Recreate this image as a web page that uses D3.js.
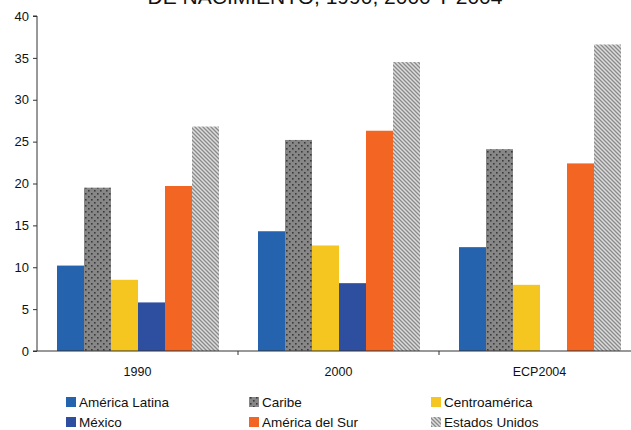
<!DOCTYPE html>
<html><head><meta charset="utf-8">
<script src="https://cdn.jsdelivr.net/npm/d3@7"></script>
<style>body{margin:0;background:#fff}svg{display:block;font-family:"Liberation Sans",Arial,sans-serif}</style>
</head><body><svg id="c" width="631" height="430"></svg>
<script>
const categories = ["1990", "2000", "ECP2004"];
const seriesNames = ["América Latina", "Caribe", "Centroamérica", "México", "América del Sur", "Estados Unidos"];
const americaLatina = [10.2, 14.3, 12.4];
const caribe = [19.5, 25.2, 24.1];
const centroamerica = [8.5, 12.6, 7.9];
const mexico = [5.8, 8.1, null];
const americaSur = [19.7, 26.3, 22.4];
const estadosUnidos = [26.8, 34.5, 36.6];
const yTicks = [0, 5, 10, 15, 20, 25, 30, 35, 40];
const titleText = "DE NACIMIENTO, 1990, 2000 Y 2004";

const values = [americaLatina, caribe, centroamerica, mexico, americaSur, estadosUnidos];
const fills = ["#2563ae", "url(#dots)", "#f5c520", "#2e4fa0", "#f26522", "url(#stripes)"];

const svg = d3.select("#c");
const defs = svg.append("defs");
const pd = defs.append("pattern").attr("id","dots").attr("patternUnits","userSpaceOnUse").attr("width",6).attr("height",6);
pd.append("rect").attr("width",6).attr("height",6).attr("fill","#878787");
pd.append("rect").attr("x",1).attr("y",1).attr("width",1.6).attr("height",1.6).attr("fill","#3a3a3a");
pd.append("rect").attr("x",4).attr("y",4).attr("width",1.6).attr("height",1.6).attr("fill","#3a3a3a");
const ps = defs.append("pattern").attr("id","stripes").attr("patternUnits","userSpaceOnUse").attr("width",4).attr("height",4);
ps.append("rect").attr("width",4).attr("height",4).attr("fill","#dcdcdc");
ps.append("path").attr("d","M-1,-1 L5,5 M-1,3 L1,5 M3,-1 L5,1").attr("stroke","#8a8a8a").attr("stroke-width",1.3);

const x0 = d3.scaleBand().domain(categories).range([37, 640]);
const x1 = d3.scaleBand().domain(seriesNames).range([20, x0.bandwidth() - 19]);
const y = d3.scaleLinear().domain([0, 40]).range([351, 16]);

svg.append("text").attr("x", 325).attr("y", 4).attr("text-anchor","middle")
  .attr("font-size", 21).attr("fill","#111").text(titleText);

// bars
seriesNames.forEach((s, si) => {
  categories.forEach((c, ci) => {
    const v = values[si][ci];
    if (v == null) return;
    svg.append("rect")
      .attr("x", x0(c) + x1(s))
      .attr("y", y(v))
      .attr("width", x1.bandwidth())
      .attr("height", y(0) - y(v))
      .attr("fill", fills[si]);
  });
});

// y axis
const ya = svg.append("g").attr("transform","translate(37,0)")
  .call(d3.axisLeft(y).tickValues(yTicks).tickSize(4).tickPadding(4));
ya.select(".domain").attr("stroke","#333").attr("d","M-4,"+y(40)+"H0V"+y(0)+"H-4");
ya.selectAll(".tick line").attr("stroke","#333");
ya.selectAll("text").attr("font-size",13).attr("fill","#111").attr("font-family","Liberation Sans, Arial, sans-serif");

// x axis
const xa = svg.append("g").attr("transform","translate(0,351)");
xa.append("line").attr("x1",37).attr("x2",640).attr("stroke","#333");
categories.slice(1).forEach(c => {
  xa.append("line").attr("x1",x0(c)).attr("x2",x0(c)).attr("y1",0).attr("y2",4).attr("stroke","#333");
});
categories.forEach(c => {
  xa.append("text").attr("x", x0(c) + x0.bandwidth()/2).attr("y", 25)
    .attr("text-anchor","middle").attr("font-size",12.5).attr("fill","#111").text(c);
});

// legend
const legX = [66, 249, 431], legY = [402, 422];
seriesNames.forEach((s, i) => {
  const col = i % 3, row = Math.floor(i / 3);
  const g = svg.append("g").attr("transform", `translate(${legX[col]},${legY[row]})`);
  g.append("rect").attr("x",0).attr("y",-5).attr("width",10).attr("height",10).attr("fill", fills[i]);
  g.append("text").attr("x",13).attr("y",5).attr("font-size",13.5).attr("fill","#111").text(s);
});
</script></body></html>
